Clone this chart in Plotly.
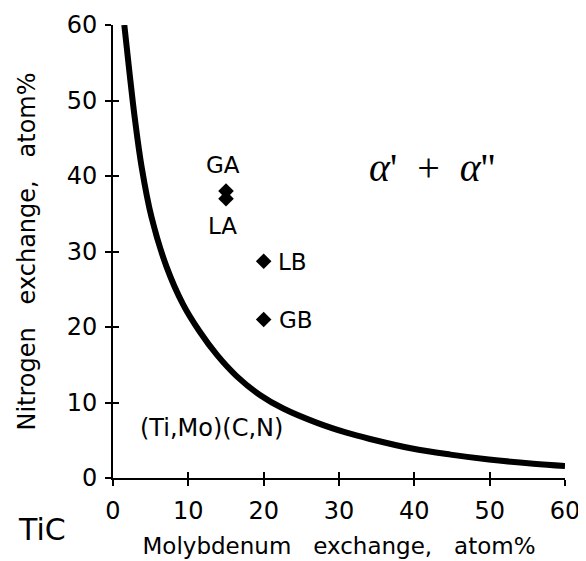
import plotly.graph_objects as go

# Boundary curve between (Ti,Mo)(C,N) and alpha' + alpha''
curve_x = [1.5, 2.2, 2.9, 3.8, 5.1, 7.1, 9.3, 11.5, 13.8, 16.4, 19.5, 22.6, 27.1, 31.0, 34.0, 39.7, 44.8, 49.9, 55.8, 60.0]
curve_y = [60.0, 53.6, 47.6, 41.2, 34.6, 28.0, 23.0, 19.4, 16.3, 13.5, 11.0, 9.2, 7.3, 6.0, 5.2, 3.9, 3.1, 2.45, 1.9, 1.6]

# Alloy points
point_names = ["GA", "LA", "LB", "GB"]
point_x = [15, 15, 20, 20]
point_y = [38, 37, 28.7, 21]

# Point label positions
label_x = [14.6, 14.5, 23.8, 24.3]
label_y = [41.5, 33.4, 28.6, 20.9]

tick_vals = [0, 10, 20, 30, 40, 50, 60]
tick_text = ["0", "10", "20", "30", "40", "50", "60"]

FONT = "DejaVu Sans"

fig = go.Figure()

fig.add_trace(go.Scatter(
    x=curve_x, y=curve_y, mode="lines",
    line=dict(color="black", width=6, shape="spline", smoothing=1.0),
    showlegend=False, hoverinfo="skip"))

fig.add_trace(go.Scatter(
    x=point_x, y=point_y, mode="markers",
    marker=dict(symbol="diamond", size=12, color="black"),
    showlegend=False))

# dummy trace for the overlay axes that draw the inner half of the crossing ticks
fig.add_trace(go.Scatter(x=[], y=[], xaxis="x2", yaxis="y2", showlegend=False))

for name, lx, ly in zip(point_names, label_x, label_y):
    fig.add_annotation(x=lx, y=ly, text=name, showarrow=False,
                       font=dict(family=FONT, size=23, color="black"))

fig.add_annotation(x=42.4, y=41.1, text="<i>\u03b1</i>'  +  <i>\u03b1</i>''", showarrow=False,
                   font=dict(family="Liberation Serif", size=40, color="black"))
fig.add_annotation(x=13.1, y=6.6, text="(Ti,Mo)(C,N)", showarrow=False,
                   font=dict(family=FONT, size=24, color="black"))
fig.add_annotation(xref="paper", yref="paper", x=-0.157, y=-0.113, text="TiC",
                   xanchor="center", yanchor="middle",
                   showarrow=False, font=dict(family=FONT, size=30, color="black"))

axis_common = dict(range=[0, 60], tickvals=tick_vals, showgrid=False, zeroline=False,
                   tickcolor="black", tickwidth=2, ticklen=6, automargin=False)

# the page body has an 8px default margin, so the figure is 8px smaller and shifted
fig.update_layout(
    width=578, height=553, autosize=False,
    margin=dict(l=105, r=21, t=17, b=83),
    plot_bgcolor="white", paper_bgcolor="white",
    font=dict(family=FONT, color="black"),
    xaxis=dict(**axis_common, ticktext=tick_text, ticks="outside",
               showline=True, linecolor="black", linewidth=2,
               tickfont=dict(family=FONT, size=24, color="black"),
               ticklabelstandoff=4,
               title=dict(text="Molybdenum\u00a0\u00a0\u00a0exchange,\u00a0\u00a0\u00a0atom%",
                          font=dict(family=FONT, size=23, color="black"), standoff=14)),
    yaxis=dict(**axis_common, ticktext=tick_text, ticks="outside",
               showline=True, linecolor="black", linewidth=2,
               tickfont=dict(family=FONT, size=24, color="black"),
               ticklabelstandoff=3,
               title=dict(text="Nitrogen\u00a0\u00a0\u00a0exchange,\u00a0\u00a0\u00a0atom%",
                          font=dict(family=FONT, size=24, color="black"), standoff=24)),
    xaxis2=dict(**axis_common, overlaying="x", anchor="y2", side="bottom", ticks="inside",
                showticklabels=False, showline=False),
    yaxis2=dict(**axis_common, overlaying="y", anchor="x2", side="left", ticks="inside",
                showticklabels=False, showline=False),
)

fig.write_html("out.html")
